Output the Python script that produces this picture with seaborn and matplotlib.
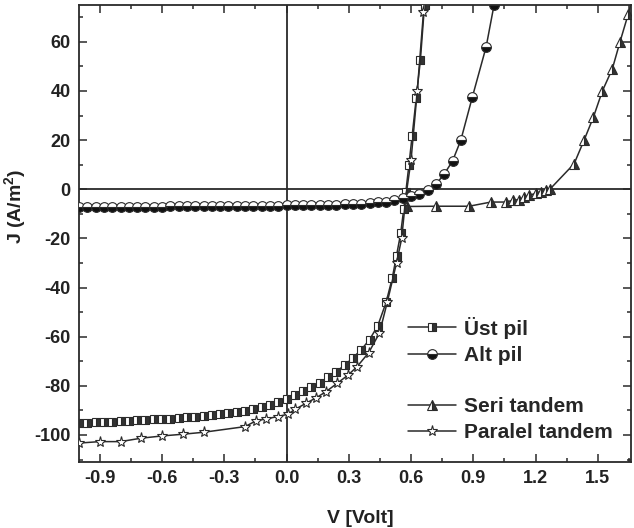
import numpy as np
import matplotlib
matplotlib.use("Agg")
import matplotlib.pyplot as plt
from matplotlib.ticker import MultipleLocator, FormatStrFormatter
from matplotlib.lines import Line2D
import seaborn as sns

# ---------------- data ----------------
ust_v = [-1.00, -0.96, -0.92, -0.88, -0.84, -0.80, -0.76, -0.72, -0.68, -0.64,
         -0.60, -0.56, -0.52, -0.48, -0.44, -0.40, -0.36, -0.32, -0.28, -0.24,
         -0.20, -0.16, -0.12, -0.08, -0.04, 0.00, 0.04, 0.08, 0.12, 0.16,
         0.20, 0.24, 0.28, 0.32, 0.36, 0.40, 0.44, 0.48, 0.51, 0.53,
         0.55, 0.565, 0.575, 0.59, 0.605, 0.625, 0.645, 0.665, 0.68]
ust_j = [-95.2, -95.0, -94.9, -94.7, -94.6, -94.4, -94.3, -94.1, -93.9, -93.7,
         -93.5, -93.3, -93.0, -92.8, -92.5, -92.2, -91.9, -91.5, -91.1, -90.6,
         -90.1, -89.5, -88.8, -87.9, -86.6, -85.2, -83.8, -82.3, -80.6, -78.7,
         -76.6, -74.2, -71.6, -68.6, -65.3, -61.2, -55.5, -46.0, -36.0, -27.0,
         -18.0, -8.0, -1.0, 10.0, 21.5, 37.0, 52.5, 75.0, 88.0]

alt_v = [-1.00, -0.96, -0.92, -0.88, -0.84, -0.80, -0.76, -0.72, -0.68, -0.64,
         -0.60, -0.56, -0.52, -0.48, -0.44, -0.40, -0.36, -0.32, -0.28, -0.24,
         -0.20, -0.16, -0.12, -0.08, -0.04, 0.00, 0.04, 0.08, 0.12, 0.16,
         0.20, 0.24, 0.28, 0.32, 0.36, 0.40, 0.44, 0.48, 0.52, 0.56,
         0.60, 0.64, 0.68, 0.72, 0.76, 0.80, 0.84, 0.895, 0.962, 1.00]
alt_j = [-7.3, -7.3, -7.3, -7.2, -7.2, -7.2, -7.2, -7.1, -7.1, -7.1,
         -7.1, -7.0, -7.0, -7.0, -7.0, -6.9, -6.9, -6.9, -6.9, -6.8,
         -6.8, -6.8, -6.7, -6.7, -6.7, -6.6, -6.6, -6.5, -6.5, -6.4,
         -6.3, -6.2, -6.1, -6.0, -5.8, -5.6, -5.3, -5.0, -4.5, -3.6,
         -2.9, -2.1, -0.4, 2.0, 6.2, 11.5, 20.0, 37.4, 58.0, 75.0]

seri_v = [0.58, 0.72, 0.88, 0.985, 1.057, 1.09, 1.12, 1.145, 1.17, 1.20,
          1.226, 1.25, 1.27, 1.386, 1.434, 1.479, 1.522, 1.57, 1.607, 1.647, 1.69]
seri_j = [-7.0, -6.9, -6.9, -5.2, -5.2, -4.5, -4.2, -3.3, -2.4, -1.7,
          -1.1, -0.4, 0.1, 10.4, 20.0, 29.4, 40.0, 49.0, 60.0, 71.4, 85.0]

par_v = [-1.00, -0.90, -0.80, -0.70, -0.60, -0.50, -0.40, -0.20, -0.146, -0.10,
         -0.043, 0.005, 0.043, 0.096, 0.144, 0.19, 0.245, 0.297, 0.34, 0.396,
         0.448, 0.486, 0.53, 0.555, 0.575, 0.60, 0.63, 0.66, 0.675]
par_j = [-103.3, -102.7, -102.7, -101.3, -100.4, -99.7, -98.9, -96.6, -94.2, -93.5,
         -92.5, -91.6, -89.5, -87.0, -84.8, -82.4, -78.9, -75.6, -72.2, -66.5,
         -58.5, -45.8, -30.0, -20.0, -3.0, 11.8, 40.0, 72.0, 88.0]

labels = ["Üst pil", "Alt pil", "Seri tandem", "Paralel tandem"]
x_ticks = [-0.9, -0.6, -0.3, 0.0, 0.3, 0.6, 0.9, 1.2, 1.5]
y_ticks = [-100, -80, -60, -40, -20, 0, 20, 40, 60]

# ---------------- style ----------------
sns.set_style("ticks")
plt.rcParams['font.family'] = ['Liberation Sans', 'DejaVu Sans']
plt.rcParams['font.weight'] = 'bold'
plt.rcParams['axes.unicode_minus'] = False
plt.rcParams['mathtext.default'] = 'bf'
plt.rcParams['mathtext.fontset'] = 'custom'
plt.rcParams['mathtext.bf'] = 'Liberation Sans:bold'

DARK = "#2a2a2a"
fig = plt.figure(figsize=(6.34, 5.28), dpi=100)
ax = fig.add_axes([79 / 634, 1 - 462 / 528, 552 / 634, 457 / 528])

ax.axhline(0, color=DARK, lw=1.3, zorder=1)
ax.axvline(0, color=DARK, lw=1.3, zorder=1)

common = dict(color=DARK, lw=1.1, markeredgecolor=DARK, markeredgewidth=0.8,
              estimator=None, sort=False, legend=False)

styles = {
    "Seri tandem": dict(marker='^', markersize=6.5, fillstyle='right',
                        markerfacecolor="#333333", markerfacecoloralt='white'),
    "Üst pil": dict(marker='s', markersize=5.5, fillstyle='right',
                    markerfacecolor="#333333", markerfacecoloralt='white'),
    "Paralel tandem": dict(marker='*', markersize=8, fillstyle='full',
                           markerfacecolor='white'),
    "Alt pil": dict(marker='o', markersize=7, fillstyle='bottom',
                    markerfacecolor="#111111", markerfacecoloralt='white'),
}

sns.lineplot(x=seri_v, y=seri_j, ax=ax, zorder=3, **styles["Seri tandem"], **common)
sns.lineplot(x=ust_v, y=ust_j, ax=ax, zorder=4, **styles["Üst pil"], **common)
sns.lineplot(x=par_v, y=par_j, ax=ax, zorder=4, **styles["Paralel tandem"], **common)
sns.lineplot(x=alt_v, y=alt_j, ax=ax, zorder=5, **styles["Alt pil"], **common)

ax.set_xlim(-1.0, 1.66)
ax.set_ylim(-111, 75)
ax.set_xticks(x_ticks)
ax.set_yticks(y_ticks)
ax.xaxis.set_major_formatter(FormatStrFormatter('%.1f'))
ax.xaxis.set_minor_locator(MultipleLocator(0.15))
ax.yaxis.set_minor_locator(MultipleLocator(10))
ax.tick_params(which='both', direction='in', top=True, right=True,
               color=DARK, width=1.1)
ax.tick_params(which='major', length=6, labelsize=13, pad=6)
ax.tick_params(which='minor', length=3)
for lab in ax.get_xticklabels() + ax.get_yticklabels():
    lab.set_fontweight('bold')
    lab.set_color('#222222')
for sp in ax.spines.values():
    sp.set_color(DARK)
    sp.set_linewidth(1.3)

ax.set_xlabel("V [Volt]", fontsize=14, fontweight='bold', color='#222222')
ax.set_ylabel(r"J (A/m$^{\mathbf{2}}$)", fontsize=14, fontweight='bold', color='#222222')
ax.xaxis.set_label_coords(0.51, -0.105)
ax.yaxis.set_label_coords(-0.092, 0.56)

def handle(name):
    return Line2D([], [], color=DARK, lw=1.1, markeredgecolor=DARK,
                  markeredgewidth=0.8, **styles[name])

leg_kw = dict(frameon=False, handlelength=2.3, handletextpad=0.4,
              labelspacing=0.35, borderpad=0, borderaxespad=0, loc='upper left',
              prop={'weight': 'bold', 'size': 15})
leg1 = ax.legend([handle(labels[0]), handle(labels[1])], labels[:2],
                 bbox_to_anchor=(0.596, 0.318), **leg_kw)
ax.add_artist(leg1)
leg2 = ax.legend([handle(labels[2]), handle(labels[3])], labels[2:],
                 bbox_to_anchor=(0.596, 0.142), **leg_kw)

fig.savefig("out.png", dpi=100)
